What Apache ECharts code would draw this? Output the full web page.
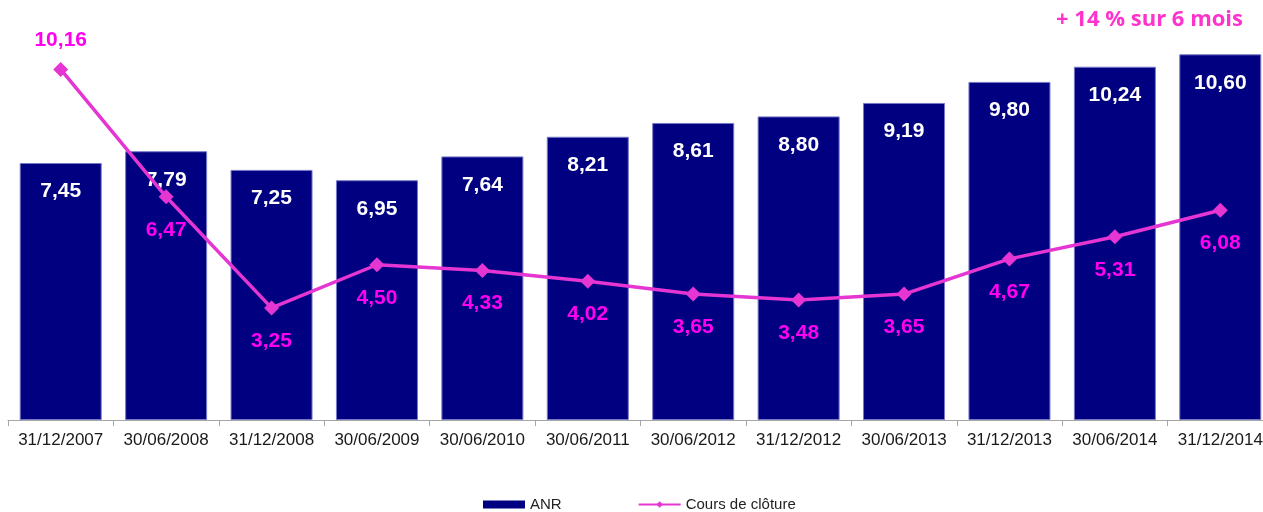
<!DOCTYPE html>
<html><head><meta charset="utf-8">
<script src="https://cdn.jsdelivr.net/npm/echarts@6/dist/echarts.min.js"></script>
<style>html,body{margin:0;padding:0;background:#fff;overflow:hidden}#c{width:1275px;height:512px}</style>
</head><body><div id="c"></div>
<script>
var categories = ['31/12/2007','30/06/2008','31/12/2008','30/06/2009','30/06/2010','30/06/2011','30/06/2012','31/12/2012','30/06/2013','31/12/2013','30/06/2014','31/12/2014'];
var anr = [7.45,7.79,7.25,6.95,7.64,8.21,8.61,8.80,9.19,9.80,10.24,10.60];
var cours = [10.16,6.47,3.25,4.50,4.33,4.02,3.65,3.48,3.65,4.67,5.31,6.08];
var note = '+ 14 % sur 6 mois';

function fmt(v){ return v.toFixed(2).replace('.', ','); }

var coursData = cours.map(function(v, i){
  return i === 0 ? {value: v, label: {position: 'top', distance: 11}} : v;
});

var chart = echarts.init(document.getElementById('c'));
chart.setOption({
  animation: false,
  grid: {left: 8, right: 2, top: 6, bottom: 92, containLabel: false},
  legend: {
    bottom: -5, left: 478, itemGap: 76, itemWidth: 42, itemHeight: 8,
    textStyle: {fontFamily: 'Liberation Sans, Arial', fontSize: 15, color: '#222'},
    data: [
      {name: 'ANR', icon: 'rect', itemStyle: {borderWidth: 0}},
      {name: 'Cours de clôture'}
    ]
  },
  graphic: [{
    type: 'text', right: 32, top: 9,
    style: {text: note, fill: '#ff33cc', font: 'bold 22px "Open Sans", sans-serif'}
  }],
  xAxis: {
    type: 'category', data: categories,
    axisLine: {lineStyle: {color: '#a6a6a6', width: 1}},
    axisTick: {show: true, length: 6, lineStyle: {color: '#a6a6a6'}},
    axisLabel: {interval: 0, fontFamily: 'Liberation Sans, Arial', fontSize: 17, color: '#1a1a1a', margin: 12}
  },
  yAxis: {type: 'value', min: 0, max: 12, show: false, splitLine: {show: false}},
  series: [{
    name: 'ANR', type: 'bar', data: anr, barWidth: 82,
    itemStyle: {color: '#000080', borderColor: '#7878c8', borderWidth: 1},
    label: {show: true, position: 'insideTop', distance: 18, color: '#fff',
      fontFamily: 'Liberation Sans, Arial', fontWeight: 'bold', fontSize: 21,
      formatter: function(p){return fmt(p.value);}}
  },{
    name: 'Cours de clôture', type: 'line', data: coursData,
    symbol: 'diamond', symbolSize: 15,
    lineStyle: {color: '#e535d2', width: 3.5},
    itemStyle: {color: '#e535d2'},
    label: {show: true, position: 'bottom', distance: 15, color: '#ff00f0',
      fontFamily: 'Liberation Sans, Arial', fontWeight: 'bold', fontSize: 21,
      formatter: function(p){return fmt(p.value);}}
  }]
});
</script></body></html>
